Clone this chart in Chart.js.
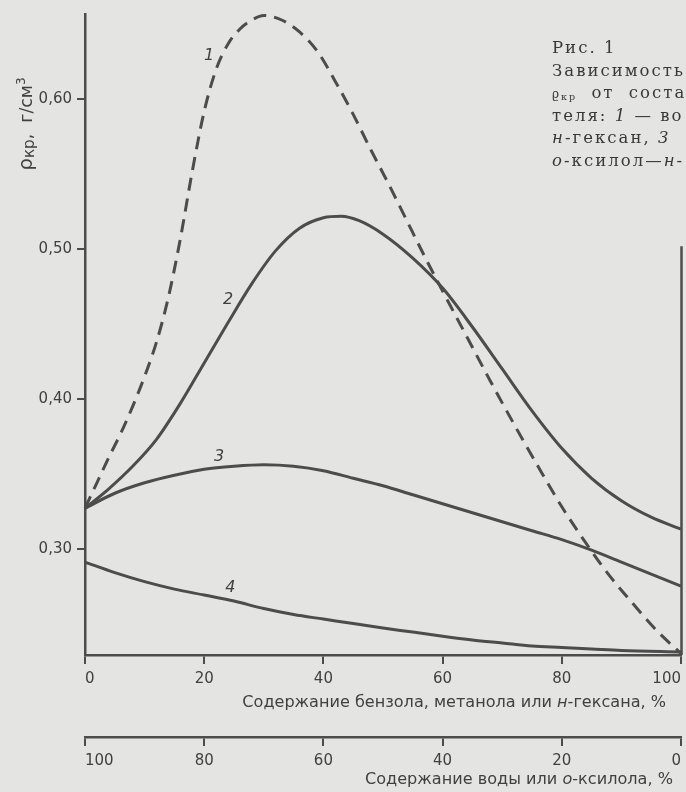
<!DOCTYPE html>
<html>
<head>
<meta charset="utf-8">
<script src="https://cdn.jsdelivr.net/npm/chart.js@4.4.1/dist/chart.umd.min.js"></script>
<style>
html, body { margin: 0; padding: 0; background: #e4e4e2; }
#wrap { position: relative; width: 686px; height: 792px; overflow: hidden; background: #e4e4e2; }
#c { position: absolute; left: 0; top: 0; }
#caption {
  position: absolute; left: 552px; top: 37px;
  font-family: "DejaVu Serif", "Liberation Serif", serif;
  font-size: 16.5px; color: #383838;
  white-space: nowrap; pointer-events: none;
}
#caption > div { height: 22.6px; line-height: 22.6px; }
#caption .wide { word-spacing: 7px; }
#caption .sm { font-size: 12px; }
#caption .sub { font-size: 9.5px; position: relative; top: 2px; }
</style>
</head>
<body>
<div id="wrap">
  <canvas id="c" width="686" height="792"></canvas>
  <div id="caption">
    <div>Рис. 1</div>
    <div><span id="fitline">Зависимость</span></div>
    <div class="wide"><span class="sm">ϱ</span><span class="sub">кр</span> от соста</div>
    <div>теля: <i>1</i> — во</div>
    <div><i>н</i>-гексан, <i>3</i></div>
    <div><i>о</i>-ксилол—<i>н</i>-</div>
  </div>
</div>
<script>
// ---------- data ----------
const xTickValues = [0, 20, 40, 60, 80, 100];
const yTickValues = [0.30, 0.40, 0.50, 0.60];

// curve 1 (dashed)
const curve1X = [0, 2, 4, 6, 8, 10, 12, 14, 16, 18, 20, 22, 24, 26, 28, 30, 33, 36, 39, 42, 45, 48, 51, 54, 57, 60, 64, 68, 72, 76, 80, 84, 88, 92, 96, 100];
const curve1Y = [0.327, 0.344, 0.361, 0.377, 0.395, 0.415, 0.438, 0.468, 0.507, 0.552, 0.592, 0.620, 0.637, 0.647, 0.653, 0.656, 0.653, 0.645, 0.632, 0.612, 0.590, 0.566, 0.543, 0.519, 0.495, 0.472, 0.442, 0.412, 0.383, 0.355, 0.328, 0.304, 0.282, 0.263, 0.245, 0.230];
// curve 2
const curve2X = [0, 4, 8, 12, 16, 20, 24, 28, 32, 36, 40, 43, 46, 50, 55, 60, 65, 70, 75, 80, 85, 90, 95, 100];
const curve2Y = [0.327, 0.340, 0.355, 0.373, 0.397, 0.424, 0.451, 0.477, 0.499, 0.514, 0.521, 0.522, 0.519, 0.510, 0.494, 0.474, 0.448, 0.420, 0.392, 0.367, 0.347, 0.332, 0.321, 0.313];
// curve 3
const curve3X = [0, 5, 10, 15, 20, 25, 30, 35, 40, 45, 50, 55, 60, 65, 70, 75, 80, 85, 90, 95, 100];
const curve3Y = [0.327, 0.337, 0.344, 0.349, 0.353, 0.355, 0.356, 0.355, 0.352, 0.347, 0.342, 0.336, 0.330, 0.324, 0.318, 0.312, 0.306, 0.299, 0.291, 0.283, 0.275];
// curve 4
const curve4X = [0, 5, 10, 15, 20, 25, 30, 35, 40, 45, 50, 55, 60, 65, 70, 75, 80, 85, 90, 100];
const curve4Y = [0.291, 0.284, 0.278, 0.273, 0.269, 0.265, 0.260, 0.256, 0.253, 0.250, 0.247, 0.2443, 0.2415, 0.239, 0.237, 0.235, 0.234, 0.233, 0.232, 0.231];

const curveNames = ['1', '2', '3', '4'];
const labelAnchorX = [20.8, 24.0, 22.5, 24.4];
const labelAnchorY = [0.629, 0.466, 0.361, 0.274];

const yMin = 0.229, yMax = 0.657;
const rightBorderFrom = 0.502;

// ---------- styling ----------
const INK = '#4c4c4c';
const TXT = '#404040';
const FAM = "'DejaVu Sans', 'Liberation Sans', sans-serif";

function pts(xs, ys) { return xs.map((x, i) => ({ x: x, y: ys[i] })); }

function drawRich(ctx, segs, x, y, align, targetW) {
  const fontOf = (s, k) => (s.style || 'normal') + ' ' + (s.size * k).toFixed(2) + 'px ' + FAM;
  const measure = (k) => segs.reduce((w, s) => { ctx.font = fontOf(s, k); return w + ctx.measureText(s.t).width; }, 0);
  let k = 1;
  if (targetW) k = targetW / measure(1);
  const total = measure(k);
  let cx = align === 'right' ? x - total : (align === 'center' ? x - total / 2 : x);
  ctx.textAlign = 'left';
  ctx.textBaseline = 'middle';
  for (const s of segs) {
    ctx.font = fontOf(s, k);
    ctx.fillText(s.t, cx, y + (s.dy || 0) * k);
    cx += ctx.measureText(s.t).width;
  }
}

const extras = {
  id: 'extras',
  afterDraw(chart) {
    const ctx = chart.ctx;
    const xs = chart.scales.x, ys = chart.scales.y;
    ctx.save();
    // right border of the plot (partly visible)
    ctx.strokeStyle = INK;
    ctx.lineWidth = 2.5;
    ctx.beginPath();
    const xr = Math.round(xs.getPixelForValue(100)) + 0.5;
    ctx.moveTo(xr, ys.getPixelForValue(rightBorderFrom));
    ctx.lineTo(xr, ys.getPixelForValue(yMin));
    ctx.stroke();

    ctx.fillStyle = TXT;
    // curve numbers
    curveNames.forEach((n, i) => {
      ctx.font = 'italic 16px ' + FAM;
      ctx.textAlign = 'center';
      ctx.textBaseline = 'middle';
      ctx.fillText(n, xs.getPixelForValue(labelAnchorX[i]), ys.getPixelForValue(labelAnchorY[i]));
    });

    // y axis title (rotated)
    ctx.save();
    ctx.translate(27, 124);
    ctx.rotate(-Math.PI / 2);
    drawRich(ctx, [
      { t: 'ρ', size: 18 },
      { t: 'кр', size: 14, dy: 3 },
      { t: ',  г/см', size: 16 },
      { t: '3', size: 11, dy: -5 }
    ], 0, 0, 'center', 93);
    ctx.restore();

    // x axis titles
    drawRich(ctx, [
      { t: 'Содержание бензола, метанола или ', size: 15 },
      { t: 'н', size: 15, style: 'italic' },
      { t: '-гексана, %', size: 15 }
    ], 666, 703, 'right', 424);
    drawRich(ctx, [
      { t: 'Содержание воды или ', size: 15 },
      { t: 'о', size: 15, style: 'italic' },
      { t: '-ксилола, %', size: 15 }
    ], 673, 780, 'right', 308);
    ctx.restore();
  }
};

const tickFont = { family: FAM, size: 15 };

new Chart(document.getElementById('c'), {
  type: 'line',
  data: {
    datasets: [
      { data: pts(curve1X, curve1Y), borderDash: [13, 8] },
      { data: pts(curve2X, curve2Y) },
      { data: pts(curve3X, curve3Y) },
      { data: pts(curve4X, curve4Y) }
    ].map(d => Object.assign({
      borderColor: INK, borderWidth: 3, pointRadius: 0, fill: false,
      cubicInterpolationMode: 'monotone', clip: false, borderCapStyle: 'butt'
    }, d))
  },
  options: {
    responsive: false,
    animation: false,
    events: [],
    layout: { padding: { left: 0, top: 14, right: 5, bottom: 0 } },
    plugins: { legend: { display: false }, tooltip: { enabled: false } },
    scales: {
      x: {
        type: 'linear', min: 0, max: 100, position: 'bottom', weight: 0,
        afterBuildTicks: s => { s.ticks = xTickValues.map(v => ({ value: v })); },
        ticks: { align: 'inner', font: tickFont, color: TXT, padding: 6, maxRotation: 0, autoSkip: false },
        grid: { drawOnChartArea: false, drawTicks: true, tickLength: 9, color: INK, lineWidth: 2 },
        border: { display: true, color: INK, width: 2.5 },
        afterFit: s => { s.height = 82; s.paddingLeft = 0; s.paddingRight = 0; }
      },
      x2: {
        type: 'linear', min: 0, max: 100, reverse: true, position: 'bottom', weight: 1,
        afterBuildTicks: s => { s.ticks = xTickValues.map(v => ({ value: v })); },
        ticks: { align: 'inner', font: tickFont, color: TXT, padding: 6, maxRotation: 0, autoSkip: false },
        grid: { drawOnChartArea: false, drawTicks: true, tickLength: 9, color: INK, lineWidth: 2 },
        border: { display: true, color: INK, width: 2.5 },
        afterFit: s => { s.height = 55; s.paddingLeft = 0; s.paddingRight = 0; }
      },
      y: {
        type: 'linear', min: yMin, max: yMax, position: 'left',
        afterBuildTicks: s => { s.ticks = yTickValues.map(v => ({ value: v })); },
        ticks: { font: tickFont, color: TXT, padding: 5, callback: v => v.toFixed(2).replace('.', ',') },
        grid: { drawOnChartArea: false, drawTicks: true, tickLength: 8, color: INK, lineWidth: 2 },
        border: { display: true, color: INK, width: 2.5 },
        afterFit: s => { s.width = 85; s.paddingTop = 0; s.paddingBottom = 0; }
      }
    }
  },
  plugins: [extras]
});

// caption letter spacing fitted to the reference line width
(function () {
  const cap = document.getElementById('caption');
  const line = document.getElementById('fitline');
  const w = line.getBoundingClientRect().width;
  const target = 133;
  const ls = Math.max(0, (target - w) / 11);
  cap.style.letterSpacing = ls.toFixed(2) + 'px';
})();
</script>
</body>
</html>
